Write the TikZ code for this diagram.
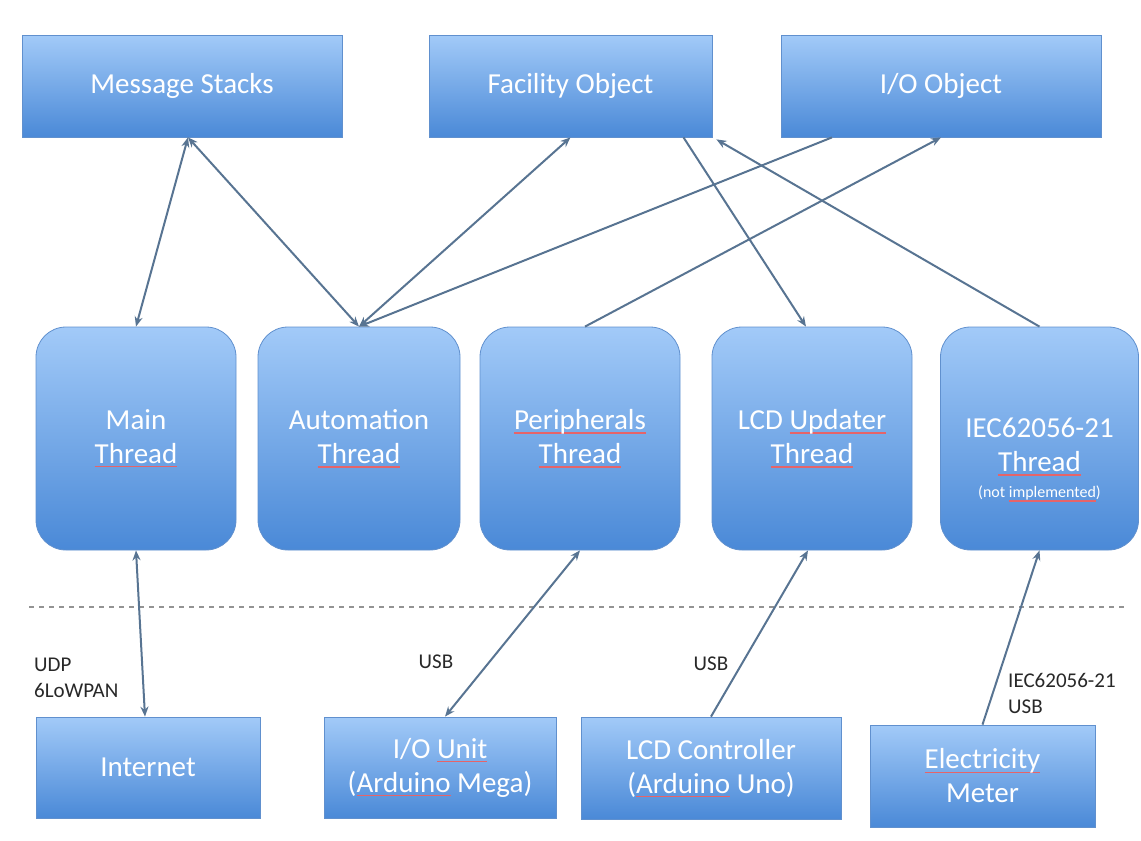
\documentclass[tikz,border=0pt]{standalone}
\usepackage{fontspec}
\setmainfont{Carlito}
\usetikzlibrary{arrows.meta,calc}

\definecolor{boxtop}{RGB}{162,202,248}
\definecolor{boxbot}{RGB}{74,137,215}
\definecolor{boxedge}{RGB}{96,144,206}
\definecolor{wire}{RGB}{88,116,146}
\definecolor{spell}{RGB}{230,100,105}
\definecolor{lbltext}{RGB}{40,40,40}

% word flagged by the spell checker: text in the current colour, thin red line below
\newsavebox\spellbox
\newcommand\spellmark[1]{\sbox\spellbox{#1}\rlap{\textcolor{spell}{\rule[-4pt]{\wd\spellbox}{1.1pt}}}\usebox\spellbox}

\begin{document}
\begin{tikzpicture}[x=1pt,y=-1pt,
  box/.style={draw=boxedge, line width=0.8pt, top color=boxtop, bottom color=boxbot,
    text=white, font=\fontsize{29}{34}\selectfont, align=center, inner sep=0pt},
  objbox/.style={box, minimum height=102pt},
  threadbox/.style={box, rounded corners=30pt, minimum width=200pt, minimum height=223pt},
  link/.style={draw=wire, line width=2pt},
  both/.style={link, {Stealth[length=10pt,width=8pt]}-{Stealth[length=10pt,width=8pt]}},
  fwd/.style={link, -{Stealth[length=10pt,width=8pt]}},
  lbl/.style={text=lbltext, font=\fontsize{21}{26}\selectfont, inner sep=0pt},
  divider/.style={draw=gray!85, line width=2pt, dash pattern=on 5pt off 5pt}
]
\useasboundingbox (0,0) rectangle (1141,841);

% shared data objects
\node[objbox, minimum width=320pt] (ms)  at (182,86)   {Message Stacks};
\node[objbox, minimum width=283pt] (fac) at (570.5,86) {Facility Object};
\node[objbox, minimum width=320pt] (io)  at (941,86)   {I/O Object};

% threads
\node[threadbox] (main)   at (136,438.5) {Main\\\spellmark{Thread}};
\node[threadbox, minimum width=202pt] (auto) at (359,438.5) {Automation\\\spellmark{Thread}};
\node[threadbox] (periph) at (580,438.5) {\spellmark{Peripherals}\\\spellmark{Thread}};
\node[threadbox] (lcdu)   at (812,438.5) {LCD \spellmark{Updater}\\\spellmark{Thread}};
\node[threadbox, minimum width=198pt] (iec) at (1039.5,438.5)
  {\rule{0pt}{62pt}IEC62056-21\\\spellmark{Thread}\\[-8pt]{\fontsize{16}{18}\selectfont (not \spellmark{implemented})}};

% boundary between software and hardware
\coordinate (divL) at (29,607);
\coordinate (divR) at (1125,607);
\draw[divider] (divL) -- (divR);

% external devices
\node[objbox, minimum width=224pt, minimum height=101pt] (inet)  at (148,767.5) {Internet};
\node[objbox, minimum width=232pt, minimum height=101pt] (iou)   at (440,767.5) {I/O \spellmark{Unit}\\(\spellmark{Arduino} Mega)};
\node[objbox, minimum width=260pt, minimum height=102pt] (lcdc)  at (711,768)   {LCD Controller\\(\spellmark{Arduino} Uno)};
\node[objbox, minimum width=225pt, minimum height=102pt] (meter) at (982.5,776) {\spellmark{Electricity}\\Meter};

% link labels
\node[lbl, anchor=west, align=left] (udp) at (34,678) {UDP\\6LoWPAN};
\node[lbl] (usbA) at (436,662) {USB};
\node[lbl] (usbB) at (711,664) {USB};
\node[lbl, anchor=west, align=left] (ieclbl) at (1008,693) {IEC62056-21\\USB};

% thread <-> object connectors
\draw[both] ([xshift=6pt]ms.south) -- (main.north);
\draw[both] ([xshift=6pt]ms.south) -- (auto.north);
\draw[both] (auto.north) -- (fac.south);
\draw[fwd]  ([xshift=-109pt]io.south) -- (auto.north);
\draw[fwd]  ([xshift=5pt]periph.north) -- (io.south);
\draw[fwd]  ([xshift=113pt]fac.south) -- ([xshift=-6pt]lcdu.north);
\draw[fwd]  (iec.north) -- ([xshift=4pt,yshift=-2pt]fac.south east);

% thread <-> device connectors
\draw[both] (main.south) -- ([xshift=-3pt]inet.north);
\draw[both] (periph.south) -- ([xshift=5pt]iou.north);
\draw[fwd]  (lcdc.north) -- ([xshift=-4pt]lcdu.south);
\draw[fwd]  (meter.north) -- (iec.south);
\end{tikzpicture}
\end{document}
